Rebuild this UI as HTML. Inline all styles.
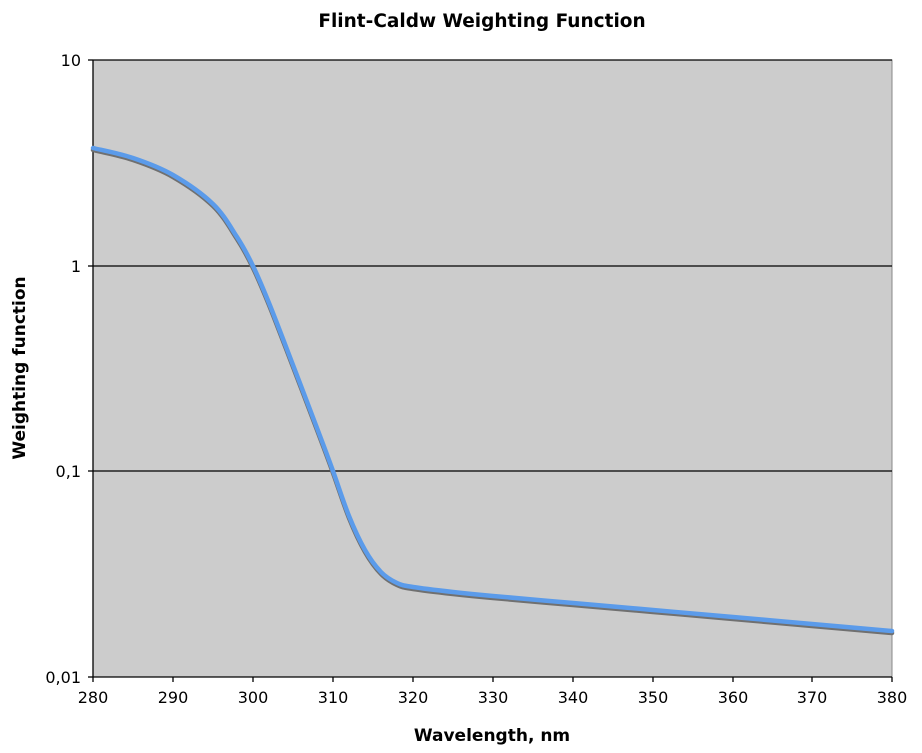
<!DOCTYPE html>
<html><head><meta charset="utf-8"><style>
body{margin:0;background:#fff;}
svg{display:block;font-family:"DejaVu Sans","Liberation Sans",sans-serif;}
</style></head><body>
<svg width="922" height="753" viewBox="0 0 922 753" xmlns="http://www.w3.org/2000/svg">
<rect x="0" y="0" width="922" height="753" fill="#fff"/>
<text x="482" y="27" text-anchor="middle" font-size="18.5" font-weight="bold">Flint-Caldw Weighting Function</text>
<rect x="93" y="60" width="799" height="617" fill="#cccccc" stroke="#888" stroke-width="1"/>
<g stroke="#000" stroke-width="1.3">
<line x1="93" y1="60" x2="892" y2="60"/>
<line x1="93" y1="266" x2="892" y2="266"/>
<line x1="93" y1="471" x2="892" y2="471"/>
<line x1="93" y1="60" x2="93" y2="677"/>
<line x1="93" y1="677" x2="892" y2="677"/>
<line x1="88" y1="60" x2="93" y2="60"/><line x1="88" y1="266" x2="93" y2="266"/><line x1="88" y1="471" x2="93" y2="471"/><line x1="88" y1="677" x2="93" y2="677"/>
<line x1="93" y1="677" x2="93" y2="682"/><line x1="173" y1="677" x2="173" y2="682"/><line x1="253" y1="677" x2="253" y2="682"/><line x1="333" y1="677" x2="333" y2="682"/><line x1="413" y1="677" x2="413" y2="682"/><line x1="493" y1="677" x2="493" y2="682"/><line x1="573" y1="677" x2="573" y2="682"/><line x1="653" y1="677" x2="653" y2="682"/><line x1="733" y1="677" x2="733" y2="682"/><line x1="812" y1="677" x2="812" y2="682"/><line x1="892" y1="677" x2="892" y2="682"/>
</g>
<g font-size="16" text-anchor="end">
<text x="81" y="66">10</text><text x="81" y="272">1</text><text x="81" y="477">0,1</text><text x="81" y="683">0,01</text>
</g>
<g font-size="16" text-anchor="middle">
<text x="93" y="703">280</text><text x="173" y="703">290</text><text x="253" y="703">300</text><text x="333" y="703">310</text><text x="413" y="703">320</text><text x="493" y="703">330</text><text x="573" y="703">340</text><text x="653" y="703">350</text><text x="733" y="703">360</text><text x="812" y="703">370</text><text x="892" y="703">380</text>
</g>
<text x="492" y="741" text-anchor="middle" font-size="17" font-weight="bold">Wavelength, nm</text>
<text transform="translate(25,368) rotate(-90)" text-anchor="middle" font-size="17" font-weight="bold">Weighting function</text>
<g fill="none" stroke-linejoin="round" stroke-linecap="round">
<path id="sh" transform="translate(0,2)" stroke="#707070" stroke-width="4.5" d=""/>
<path id="ln" stroke="#5b9bea" stroke-width="4.5" d=""/>
</g>
</svg>
<script>
var p=[[93,148],[133,158],[173,175],[213,204],[237,237],[253,266],[269,303],[293,365],[317,428],[333,471],[349,516],[365,550],[381,572],[397,583],[413,587],[453,592],[493,596],[573,603],[653,610],[733,617],[812,624],[892,631]];
var d="M"+p[0][0]+","+p[0][1];
for(var i=0;i<p.length-1;i++){
 var a=p[Math.max(i-1,0)],b=p[i],c=p[i+1],e=p[Math.min(i+2,p.length-1)];
 var c1x=b[0]+(c[0]-a[0])/6,c1y=b[1]+(c[1]-a[1])/6,c2x=c[0]-(e[0]-b[0])/6,c2y=c[1]-(e[1]-b[1])/6;
 d+=" C"+c1x.toFixed(1)+","+c1y.toFixed(1)+" "+c2x.toFixed(1)+","+c2y.toFixed(1)+" "+c[0]+","+c[1];
}
document.getElementById("sh").setAttribute("d",d);
document.getElementById("ln").setAttribute("d",d);
</script>
</body></html>
